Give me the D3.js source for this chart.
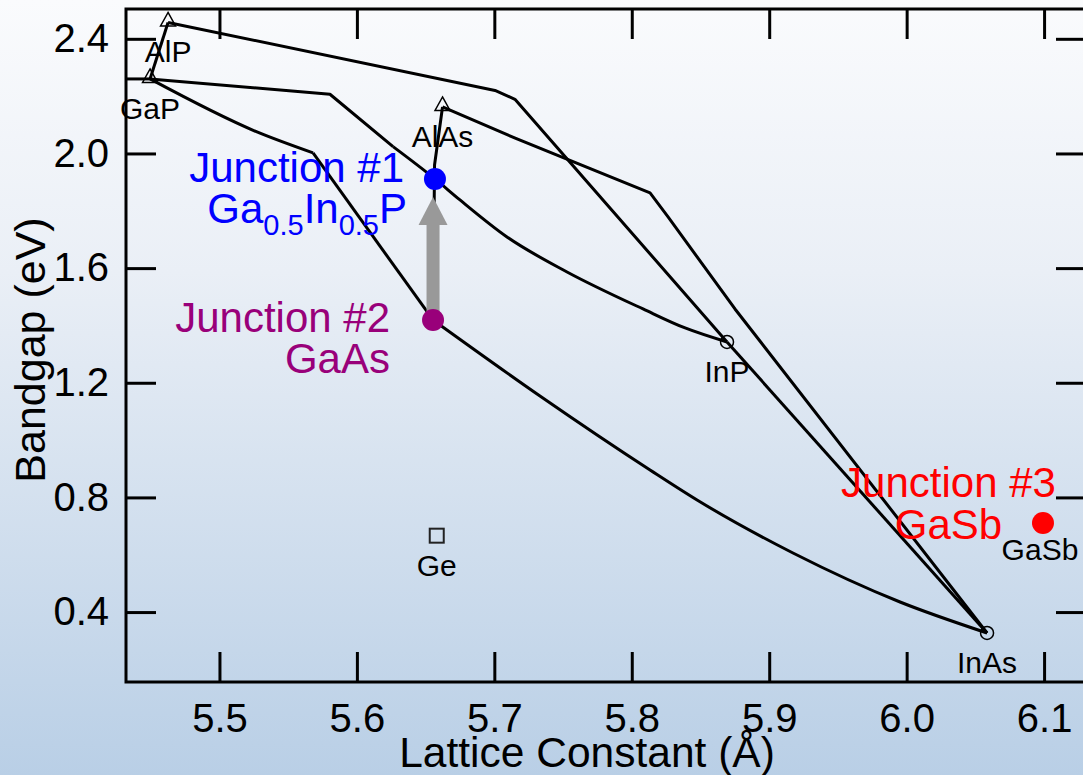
<!DOCTYPE html>
<html>
<head>
<meta charset="utf-8">
<script src="https://cdn.jsdelivr.net/npm/d3@7"></script>
<style>
	body { margin: 0; }
	svg { display: block; font-family: "Liberation Sans", Arial, Helvetica, sans-serif; }
</style>
</head>
<body>
<div id="chart"></div>
<script>
'use strict';

// Axis ticks
var xTicks = [5.5, 5.6, 5.7, 5.8, 5.9, 6.0, 6.1];
var yTicks = [0.4, 0.8, 1.2, 1.6, 2.0, 2.4];

// Binary compounds: [lattice constant (A), bandgap (eV)]
var triangleLabels = ['AlP', 'GaP', 'AlAs'];
var triangleA = [5.4626, 5.4495, 5.6623];
var triangleEg = [2.4571, 2.2600, 2.1623];

var circleLabels = ['InP', 'InAs'];
var circleA = [5.8693, 6.0585];
var circleEg = [1.3423, 0.3270];

var squareLabels = ['Ge'];
var squareA = [5.6581];
var squareEg = [0.6665];

// Junctions
var junctionNames = ['Junction #1', 'Junction #2', 'Junction #3'];
var junctionA = [5.6568, 5.6554, 6.0992];
var junctionEg = [1.9111, 1.4191, 0.7108];
var junctionColors = ['#0000ff', '#99007a', '#ff0000'];

// Alloy curves (straight segments)
var curveAlPGaP = [[5.4626, 2.4571], [5.4495, 2.2600]];
var curveGaPLeft = [[5.4495, 2.2600], [5.4300, 2.2600]];
var curveAlInP = [[5.4626, 2.4571], [5.7005, 2.2199], [5.7150, 2.1891], [5.8693, 1.3423]];
var curveAlInAs = [[5.6623, 2.1623], [5.7165, 2.0506], [5.8133, 1.8622], [5.8264, 1.7785], [5.8751, 1.4575], [6.0585, 0.3270]];
var curveInPInAs = [[5.8693, 1.3423], [6.0585, 0.3270]];
var curveGaInPIndirect = [[5.4495, 2.2600], [5.5804, 2.2066], [5.6263, 2.0238]];
var curveGaPGaAsDirect = [[5.5681, 2.0018], [5.6554, 1.4191]];
var curveAlAsGaAs = [[5.6623, 2.1623], [5.6565, 1.9599], [5.6554, 1.4191]];
// Alloy curves (smooth)
var curveGaInPDirect = [[5.6263, 2.0238], [5.6568, 1.9111], [5.6750, 1.8378], [5.7092, 1.7087], [5.7529, 1.5866], [5.8082, 1.4575], [5.8388, 1.3912], [5.8693, 1.3423]];
var curveGaPGaAsIndirect = [[5.4495, 2.2600], [5.5273, 2.0750], [5.5681, 2.0018]];
var curveGaAsInAs = [[5.6554, 1.4191], [5.7332, 1.1539], [5.8133, 0.8957], [5.8475, 0.7910], [5.9173, 0.6061], [5.9952, 0.4351], [6.0585, 0.3270]];

var straightCurves = [curveGaPLeft, curveAlPGaP, curveAlInP, curveAlInAs, curveInPInAs, curveGaInPIndirect, curveGaPGaAsDirect, curveAlAsGaAs];
var smoothCurves = [curveGaInPDirect, curveGaPGaAsIndirect, curveGaAsInAs];

drawChart();

function drawChart() {
	// Dimensions
	var width = 1083;
	var height = 775;
	var pLeft = 126, pRight = 1086, pTop = 9, pBottom = 682;

	var svg = d3.select('#chart')
		.append('svg')
		.attr('width', width)
		.attr('height', height);

	// Background gradient
	var defs = svg.append('defs');
	var grad = defs.append('linearGradient')
		.attr('id', 'bg')
		.attr('x1', 0).attr('y1', 0)
		.attr('x2', 0).attr('y2', 1);
	grad.append('stop').attr('offset', '0%').attr('stop-color', '#fafbfd');
	grad.append('stop').attr('offset', '35%').attr('stop-color', '#eaeff6');
	grad.append('stop').attr('offset', '100%').attr('stop-color', '#b9cfe6');

	defs.append('clipPath')
		.attr('id', 'plotclip')
		.append('rect')
		.attr('x', pLeft).attr('y', pTop)
		.attr('width', pRight - pLeft).attr('height', pBottom - pTop);

	svg.append('rect')
		.attr('width', width)
		.attr('height', height)
		.attr('fill', 'url(#bg)');

	// Scales
	var x = d3.scaleLinear().domain([5.432, 6.1305]).range([pLeft, pRight]);
	var y = d3.scaleLinear().domain([0.156, 2.504]).range([pBottom, pTop]);

	// Axes
	function styleAxis(g) {
		g.select('.domain').remove();
		g.selectAll('.tick line').attr('stroke', '#000').attr('stroke-width', 3);
		g.selectAll('.tick text').attr('fill', '#000').style('font-size', '40px')
			.style('font-family', '"Liberation Sans", Arial, Helvetica, sans-serif');
	}

	svg.append('g')
		.attr('transform', 'translate(0,' + pBottom + ')')
		.call(d3.axisBottom(x).tickValues(xTicks).tickSize(-30).tickPadding(22).tickFormat(d3.format('.1f')))
		.call(styleAxis);

	svg.append('g')
		.attr('transform', 'translate(0,' + pTop + ')')
		.call(d3.axisTop(x).tickValues(xTicks).tickSize(-30).tickFormat(''))
		.call(styleAxis);

	svg.append('g')
		.attr('transform', 'translate(' + pLeft + ',0)')
		.call(d3.axisLeft(y).tickValues(yTicks).tickSize(-30).tickPadding(17).tickFormat(d3.format('.1f')))
		.call(styleAxis);

	svg.append('g')
		.attr('transform', 'translate(' + pRight + ',0)')
		.call(d3.axisRight(y).tickValues(yTicks).tickSize(-30).tickFormat(''))
		.call(styleAxis);

	// Frame
	svg.append('rect')
		.attr('x', pLeft).attr('y', pTop)
		.attr('width', pRight - pLeft).attr('height', pBottom - pTop)
		.attr('fill', 'none')
		.attr('stroke', '#000')
		.attr('stroke-width', 3);

	// Axis titles
	svg.append('text')
		.attr('x', 587)
		.attr('y', 767)
		.attr('text-anchor', 'middle')
		.style('font-size', '42.5px')
		.text('Lattice Constant (Å)');

	svg.append('text')
		.attr('transform', 'translate(45,350) rotate(-90)')
		.attr('text-anchor', 'middle')
		.style('font-size', '43px')
		.text('Bandgap (eV)');

	// Curves
	var line = d3.line()
		.x(function(d) { return x(d[0]); })
		.y(function(d) { return y(d[1]); });
	var smoothLine = d3.line()
		.curve(d3.curveMonotoneX)
		.x(function(d) { return x(d[0]); })
		.y(function(d) { return y(d[1]); });

	var curveG = svg.append('g')
		.attr('clip-path', 'url(#plotclip)')
		.attr('fill', 'none')
		.attr('stroke', '#000')
		.attr('stroke-width', 3)
		.attr('stroke-linejoin', 'round');

	curveG.selectAll('.straight')
		.data(straightCurves)
		.enter()
		.append('path')
		.attr('class', 'straight')
		.attr('d', line);

	curveG.selectAll('.smooth')
		.data(smoothCurves)
		.enter()
		.append('path')
		.attr('class', 'smooth')
		.attr('d', smoothLine);

	// Markers
	var markers = svg.append('g');

	triangleLabels.forEach(function(name, i) {
		var cx = x(triangleA[i]), cy = y(triangleEg[i]);
		markers.append('path')
			.attr('d', 'M' + cx + ',' + (cy - 10) + 'L' + (cx + 7.5) + ',' + (cy + 3.5) + 'L' + (cx - 7.5) + ',' + (cy + 3.5) + 'Z')
			.attr('fill', 'none')
			.attr('stroke', '#000')
			.attr('stroke-width', 1.5);
	});

	circleLabels.forEach(function(name, i) {
		markers.append('circle')
			.attr('cx', x(circleA[i]))
			.attr('cy', y(circleEg[i]))
			.attr('r', 6.5)
			.attr('fill', 'none')
			.attr('stroke', '#000')
			.attr('stroke-width', 1.5);
	});

	squareLabels.forEach(function(name, i) {
		markers.append('rect')
			.attr('x', x(squareA[i]) - 7)
			.attr('y', y(squareEg[i]) - 7)
			.attr('width', 14)
			.attr('height', 14)
			.attr('fill', 'none')
			.attr('stroke', '#222')
			.attr('stroke-width', 2);
	});

	// Point labels
	var pointLabels = svg.append('g').style('font-size', '30px').attr('text-anchor', 'middle');
	function addLabels(names, as, egs) {
		names.forEach(function(name, i) {
			pointLabels.append('text')
				.attr('x', x(as[i]))
				.attr('y', y(egs[i]) + 40)
				.text(name);
		});
	}
	addLabels(triangleLabels, triangleA, triangleEg);
	addLabels(circleLabels, circleA, circleEg);
	addLabels(squareLabels, squareA, squareEg);
	pointLabels.append('text')
		.attr('x', x(junctionA[2]) - 3)
		.attr('y', y(junctionEg[2]) + 37)
		.text('GaSb');

	// Arrow GaAs -> GaInP
	var ax = x(junctionA[1]);
	var tipY = y(junctionEg[0]) + 18;
	var baseY = tipY + 28;
	svg.append('rect')
		.attr('x', ax - 6.5)
		.attr('y', baseY - 1)
		.attr('width', 13)
		.attr('height', y(junctionEg[1]) - baseY + 1)
		.attr('fill', '#999');
	svg.append('path')
		.attr('d', 'M' + ax + ',' + tipY + 'L' + (ax + 14.5) + ',' + baseY + 'L' + (ax - 14.5) + ',' + baseY + 'Z')
		.attr('fill', '#999');

	// Junction dots
	svg.append('g')
		.selectAll('circle')
		.data(junctionNames)
		.enter()
		.append('circle')
		.attr('cx', function(d, i) { return x(junctionA[i]); })
		.attr('cy', function(d, i) { return y(junctionEg[i]); })
		.attr('r', 11)
		.attr('fill', function(d, i) { return junctionColors[i]; });

	// Junction labels
	var jl = svg.append('g').style('font-size', '42px');

	jl.append('text').attr('x', 404).attr('y', 182).attr('text-anchor', 'end')
		.attr('fill', junctionColors[0]).text(junctionNames[0]);
	var t1 = jl.append('text').attr('x', 407).attr('y', 223).attr('text-anchor', 'end')
		.attr('fill', junctionColors[0]);
	t1.append('tspan').text('Ga');
	t1.append('tspan').attr('dy', 12).style('font-size', '29px').text('0.5');
	t1.append('tspan').attr('dy', -12).text('In');
	t1.append('tspan').attr('dy', 12).style('font-size', '29px').text('0.5');
	t1.append('tspan').attr('dy', -12).text('P');

	jl.append('text').attr('x', 390).attr('y', 332).attr('text-anchor', 'end')
		.attr('fill', junctionColors[1]).text(junctionNames[1]);
	jl.append('text').attr('x', 390).attr('y', 373).attr('text-anchor', 'end')
		.attr('fill', junctionColors[1]).text('GaAs');

	jl.append('text').attr('x', 948.5).attr('y', 497).attr('text-anchor', 'middle')
		.attr('fill', junctionColors[2]).text(junctionNames[2]);
	jl.append('text').attr('x', 948.5).attr('y', 539).attr('text-anchor', 'middle')
		.attr('fill', junctionColors[2]).text('GaSb');
}
</script>
</body>
</html>
